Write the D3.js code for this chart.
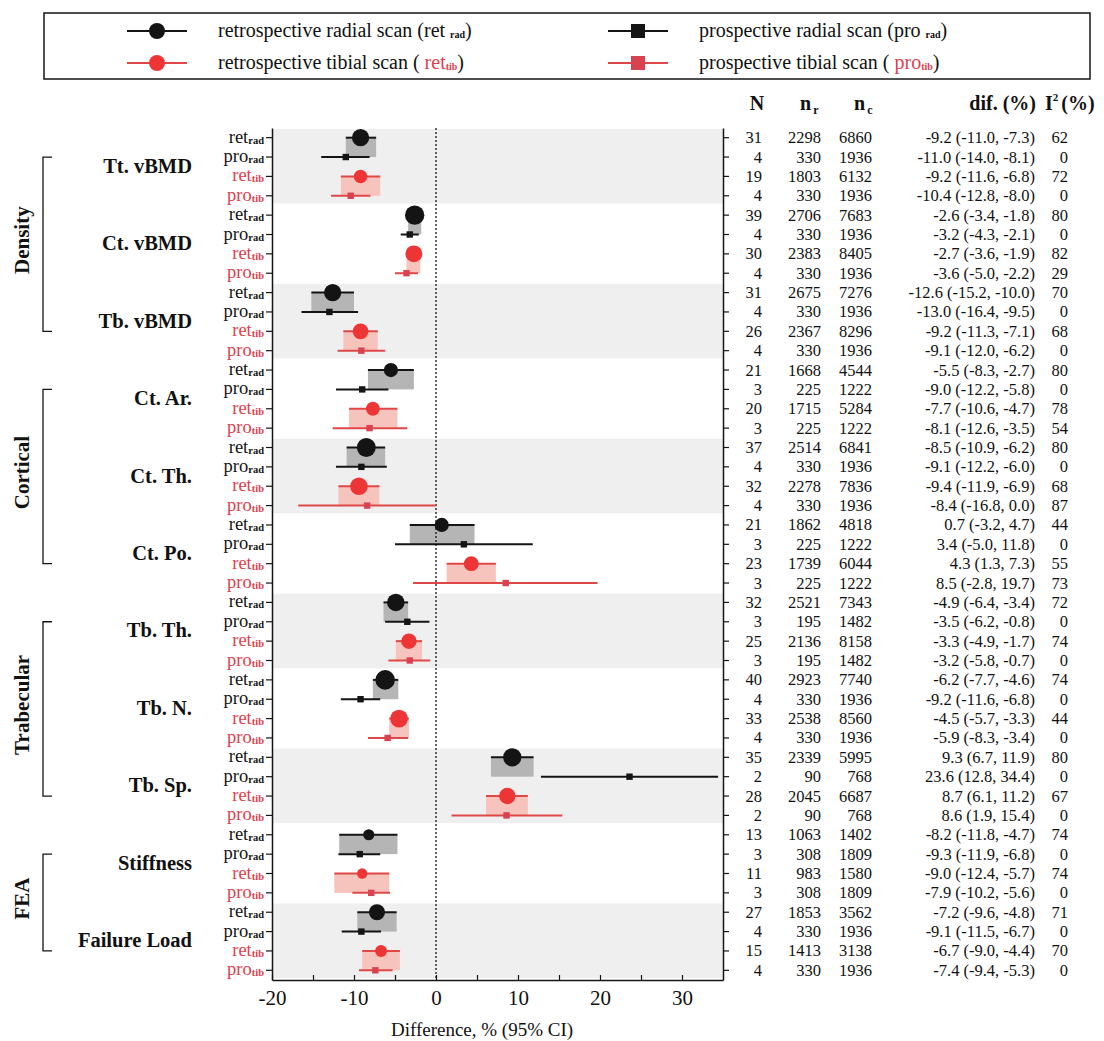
<!DOCTYPE html>
<html>
<head>
<meta charset="utf-8">
<script src="https://cdn.jsdelivr.net/npm/d3@7/dist/d3.min.js"></script>
<style>
body { margin: 0; background: #fff; }
text { font-family: "Liberation Serif", "Times New Roman", serif; fill: #111; }
</style>
</head>
<body>
<div id="chart"></div>
<script>
// measures, grouped
var measures = ["Tt. vBMD", "Ct. vBMD", "Tb. vBMD", "Ct. Ar.", "Ct. Th.", "Ct. Po.",
    "Tb. Th.", "Tb. N.", "Tb. Sp.", "Stiffness", "Failure Load"];
var groupNames = ["Density", "Cortical", "Trabecular", "FEA"];
var groupOf = [0, 0, 0, 1, 1, 1, 2, 2, 2, 3, 3];
// row order inside every measure
var scanKeys = ["ret", "pro", "ret", "pro"];
var scanSubs = ["rad", "rad", "tib", "tib"];

// one value per row (11 measures x 4 scans)
var nStudies = [31, 4, 19, 4, 39, 4, 30, 4, 31, 4, 26, 4,
    21, 3, 20, 3, 37, 4, 32, 4, 21, 3, 23, 3,
    32, 3, 25, 3, 40, 4, 33, 4, 35, 2, 28, 2,
    13, 3, 11, 3, 27, 4, 15, 4];
var nR = [2298, 330, 1803, 330, 2706, 330, 2383, 330, 2675, 330, 2367, 330,
    1668, 225, 1715, 225, 2514, 330, 2278, 330, 1862, 225, 1739, 225,
    2521, 195, 2136, 195, 2923, 330, 2538, 330, 2339, 90, 2045, 90,
    1063, 308, 983, 308, 1853, 330, 1413, 330];
var nC = [6860, 1936, 6132, 1936, 7683, 1936, 8405, 1936, 7276, 1936, 8296, 1936,
    4544, 1222, 5284, 1222, 6841, 1936, 7836, 1936, 4818, 1222, 6044, 1222,
    7343, 1482, 8158, 1482, 7740, 1936, 8560, 1936, 5995, 768, 6687, 768,
    1402, 1809, 1580, 1809, 3562, 1936, 3138, 1936];
var dif = [-9.2, -11.0, -9.2, -10.4, -2.6, -3.2, -2.7, -3.6, -12.6, -13.0, -9.2, -9.1,
    -5.5, -9.0, -7.7, -8.1, -8.5, -9.1, -9.4, -8.4, 0.7, 3.4, 4.3, 8.5,
    -4.9, -3.5, -3.3, -3.2, -6.2, -9.2, -4.5, -5.9, 9.3, 23.6, 8.7, 8.6,
    -8.2, -9.3, -9.0, -7.9, -7.2, -9.1, -6.7, -7.4];
var ciLow = [-11.0, -14.0, -11.6, -12.8, -3.4, -4.3, -3.6, -5.0, -15.2, -16.4, -11.3, -12.0,
    -8.3, -12.2, -10.6, -12.6, -10.9, -12.2, -11.9, -16.8, -3.2, -5.0, 1.3, -2.8,
    -6.4, -6.2, -4.9, -5.8, -7.7, -11.6, -5.7, -8.3, 6.7, 12.8, 6.1, 1.9,
    -11.8, -11.9, -12.4, -10.2, -9.6, -11.5, -9.0, -9.4];
var ciHigh = [-7.3, -8.1, -6.8, -8.0, -1.8, -2.1, -1.9, -2.2, -10.0, -9.5, -7.1, -6.2,
    -2.7, -5.8, -4.7, -3.5, -6.2, -6.0, -6.9, 0.0, 4.7, 11.8, 7.3, 19.7,
    -3.4, -0.8, -1.7, -0.7, -4.6, -6.8, -3.3, -3.4, 11.9, 34.4, 11.2, 15.4,
    -4.7, -6.8, -5.7, -5.6, -4.8, -6.7, -4.4, -5.3];
var iSq = [62, 0, 72, 0, 80, 0, 82, 29, 70, 0, 68, 0,
    80, 0, 78, 54, 80, 0, 68, 87, 44, 0, 55, 73,
    72, 0, 74, 0, 74, 0, 44, 0, 80, 0, 67, 0,
    74, 0, 74, 0, 71, 0, 70, 0];
var xTicks = [-20, -15, -10, -5, 0, 5, 10, 15, 20, 25, 30];
var legendLabels = [
    ["retrospective radial scan (ret ", "rad", ")"],
    ["prospective radial scan (pro ", "rad", ")"],
    ["retrospective tibial scan ( ", "ret", "tib", ")"],
    ["prospective tibial scan ( ", "pro", "tib", ")"]
];

var width = 1104, height = 1041;
var plotL = 272, plotR = 723, plotT = 128, plotB = 980;
var black = "#141414", red = "#ee3535", redDark = "#d8434f", redLabel = "#e0404e";

var rows = nStudies.map(function(n, i) {
    return {i: i, m: Math.floor(i / 4), s: i % 4, n: n, nr: nR[i], nc: nC[i],
        est: dif[i], lo: ciLow[i], hi: ciHigh[i], i2: iSq[i]};
});

var svg = d3.select("#chart").append("svg")
    .attr("width", width)
    .attr("height", height);

var x = d3.scaleLinear().domain([-20, 35]).range([plotL, plotR]);
var y = d3.scaleBand().domain(d3.range(rows.length)).range([plotT, plotB]);
var bw = y.bandwidth();
function yc(i) { return y(i) + bw / 2; }
var r = d3.scaleSqrt().domain([0, 40]).range([0, 9.8]);

// grey bands for every second measure
svg.append("g").selectAll("rect")
    .data(measures.filter(function(d, m) { return m % 2 === 0; }))
    .join("rect")
    .attr("x", plotL)
    .attr("width", plotR - plotL)
    .attr("y", function(d) { return y(measures.indexOf(d) * 4) + 1; })
    .attr("height", bw * 4 - 3)
    .attr("fill", "#efefef");

// retrospective CI boxes, from ret row down to pro row
svg.append("g").selectAll("rect")
    .data(rows.filter(function(d) { return d.s === 0 || d.s === 2; }))
    .join("rect")
    .attr("x", function(d) { return x(d.lo); })
    .attr("width", function(d) { return x(d.hi) - x(d.lo); })
    .attr("y", function(d) { return yc(d.i); })
    .attr("height", function(d) { return yc(d.i + 1) - yc(d.i); })
    .attr("fill", function(d) { return d.s === 0 ? "#b5b5b5" : "#f7c3bd"; });

// zero line
svg.append("line")
    .attr("x1", x(0)).attr("x2", x(0))
    .attr("y1", plotT).attr("y2", plotB)
    .attr("stroke", black)
    .attr("stroke-width", 1.3)
    .attr("stroke-dasharray", "2,2");

// CI lines
svg.append("g").selectAll("line")
    .data(rows)
    .join("line")
    .attr("x1", function(d) { return x(d.lo); })
    .attr("x2", function(d) { return x(Math.min(d.hi, 35)); })
    .attr("y1", function(d) { return yc(d.i); })
    .attr("y2", function(d) { return yc(d.i); })
    .attr("stroke", function(d) { return d.s < 2 ? black : "#e04848"; })
    .attr("stroke-width", 2);

// markers
svg.append("g").selectAll("circle")
    .data(rows.filter(function(d) { return d.s === 0 || d.s === 2; }))
    .join("circle")
    .attr("cx", function(d) { return x(d.est); })
    .attr("cy", function(d) { return yc(d.i); })
    .attr("r", function(d) { return r(d.n); })
    .attr("fill", function(d) { return d.s === 0 ? black : red; });

svg.append("g").selectAll("rect")
    .data(rows.filter(function(d) { return d.s === 1 || d.s === 3; }))
    .join("rect")
    .attr("x", function(d) { return x(d.est) - 3.2; })
    .attr("y", function(d) { return yc(d.i) - 3.2; })
    .attr("width", 6.4)
    .attr("height", 6.4)
    .attr("fill", function(d) { return d.s === 1 ? black : redDark; });

// axes
var yLeft = svg.append("g")
    .attr("transform", "translate(" + plotL + ",0)")
    .call(d3.axisLeft(y).tickSize(6).tickSizeOuter(0).tickFormat(""));
var yRight = svg.append("g")
    .attr("transform", "translate(" + plotR + ",0)")
    .call(d3.axisRight(y).tickSize(6).tickSizeOuter(0).tickFormat(""));
[yLeft, yRight].forEach(function(a) {
    a.select(".domain").attr("stroke", black).attr("stroke-width", 1.5);
    a.selectAll(".tick line").attr("stroke", black).attr("stroke-width", 1.2);
});

var xAxis = svg.append("g")
    .attr("transform", "translate(0," + plotB + ")")
    .call(d3.axisBottom(x).tickValues(xTicks).tickSizeInner(-5).tickSizeOuter(0).tickPadding(10)
        .tickFormat(function(d) { return d % 10 === 0 ? d : ""; }));
xAxis.select(".domain").attr("stroke", black).attr("stroke-width", 1.5);
xAxis.selectAll(".tick line").attr("stroke", black).attr("stroke-width", 1.2);
xAxis.selectAll(".tick text")
    .attr("font-size", 21)
    .attr("fill", black)
    .style("font-family", "'Liberation Serif', serif");

svg.append("text")
    .attr("x", 482)
    .attr("y", 1036)
    .attr("text-anchor", "middle")
    .attr("font-size", 19)
    .text("Difference, % (95% CI)");

// row labels (ret_rad, pro_rad, ...)
var rowLab = svg.append("g").selectAll("text")
    .data(rows)
    .join("text")
    .attr("x", plotL - 8)
    .attr("y", function(d) { return yc(d.i) + 5; })
    .attr("text-anchor", "end")
    .attr("font-size", 18.5)
    .style("fill", function(d) { return d.s < 2 ? black : redLabel; });
rowLab.append("tspan").text(function(d) { return scanKeys[d.s]; });
rowLab.append("tspan")
    .attr("font-size", 10.5)
    .attr("font-weight", "bold")
    .attr("dy", 1)
    .text(function(d) { return scanSubs[d.s]; });

// measure labels
svg.append("g").selectAll("text")
    .data(measures)
    .join("text")
    .attr("x", 192)
    .attr("y", function(d, m) { return (yc(m * 4 + 1) + yc(m * 4 + 2)) / 2 + 6; })
    .attr("text-anchor", "end")
    .attr("font-size", 20.5)
    .attr("font-weight", "bold")
    .text(function(d) { return d; });

// group brackets
function groupSpan(g) {
    var ms = d3.range(measures.length).filter(function(m) { return groupOf[m] === g; });
    return [yc(ms[0] * 4 + 1), yc(ms[ms.length - 1] * 4 + 2)];
}
var grp = svg.append("g").selectAll("g")
    .data(groupNames)
    .join("g");
grp.append("path")
    .attr("fill", "none")
    .attr("stroke", black)
    .attr("stroke-width", 1.3)
    .attr("d", function(d, g) {
        var s = groupSpan(g);
        return "M52," + s[0] + "H43V" + s[1] + "H52";
    });
grp.append("text")
    .attr("transform", function(d, g) {
        var s = groupSpan(g);
        return "translate(29," + ((s[0] + s[1]) / 2 - 4) + ") rotate(-90)";
    })
    .attr("text-anchor", "middle")
    .attr("font-size", 21)
    .attr("font-weight", "bold")
    .text(function(d) { return d; });

// right-hand table
var colX = [762, 821, 872, 1035, 1068];
var colText = [
    function(d) { return d.n; },
    function(d) { return d.nr; },
    function(d) { return d.nc; },
    function(d) { return d.est.toFixed(1) + " (" + d.lo.toFixed(1) + ", " + d.hi.toFixed(1) + ")"; },
    function(d) { return d.i2; }
];
colX.forEach(function(cx, c) {
    svg.append("g").selectAll("text")
        .data(rows)
        .join("text")
        .attr("x", cx)
        .attr("y", function(d) { return yc(d.i) + 5.5; })
        .attr("text-anchor", "end")
        .attr("font-size", 16.5)
        .text(colText[c]);
});

// table header
var head = svg.append("g").attr("font-weight", "bold").attr("font-size", 20);
head.append("text").attr("x", 757).attr("y", 110).attr("text-anchor", "middle").text("N");
var hr = head.append("text").attr("x", 800).attr("y", 110);
hr.append("tspan").text("n");
hr.append("tspan").attr("font-size", 12).attr("dy", 4).attr("dx", 2).text("r");
var hc = head.append("text").attr("x", 854).attr("y", 110);
hc.append("tspan").text("n");
hc.append("tspan").attr("font-size", 12).attr("dy", 4).attr("dx", 2).text("c");
head.append("text").attr("x", 1036).attr("y", 110).attr("text-anchor", "end").text("dif. (%)");
var hi2 = head.append("text").attr("x", 1045).attr("y", 110);
hi2.append("tspan").text("I");
hi2.append("tspan").attr("font-size", 11).attr("dy", -9).text("2");
hi2.append("tspan").attr("dy", 9).attr("dx", 3).text("(%)");

// legend
svg.append("rect")
    .attr("x", 44).attr("y", 13)
    .attr("width", 1046).attr("height", 66)
    .attr("fill", "#fff")
    .attr("stroke", black)
    .attr("stroke-width", 1.5);

var legPos = [[157, 31], [638, 31], [157, 63], [638, 63]];
legendLabels.forEach(function(lab, k) {
    var cx = legPos[k][0], cy = legPos[k][1];
    var col = k < 2 ? black : (k === 2 ? red : redDark);
    svg.append("line")
        .attr("x1", cx - 30).attr("x2", cx + 30)
        .attr("y1", cy).attr("y2", cy)
        .attr("stroke", k < 2 ? black : "#e04848")
        .attr("stroke-width", 2);
    if (k % 2 === 0) {
        svg.append("circle").attr("cx", cx).attr("cy", cy).attr("r", 8).attr("fill", col);
    } else {
        svg.append("rect").attr("x", cx - 7).attr("y", cy - 7).attr("width", 14).attr("height", 14).attr("fill", col);
    }
    var t = svg.append("text")
        .attr("x", cx + 61)
        .attr("y", cy + 6)
        .attr("font-size", 20);
    if (k < 2) {
        t.append("tspan").text(lab[0]);
        t.append("tspan").attr("font-size", 10).attr("font-weight", "bold").attr("dy", 1).text(lab[1]);
        t.append("tspan").attr("dy", -1).text(lab[2]);
    } else {
        t.append("tspan").text(lab[0]);
        t.append("tspan").style("fill", redLabel).text(lab[1]);
        t.append("tspan").style("fill", redLabel).attr("font-size", 10).attr("font-weight", "bold").attr("dy", 1).text(lab[2]);
        t.append("tspan").attr("dy", -1).text(lab[3]);
    }
});
</script>
</body>
</html>
